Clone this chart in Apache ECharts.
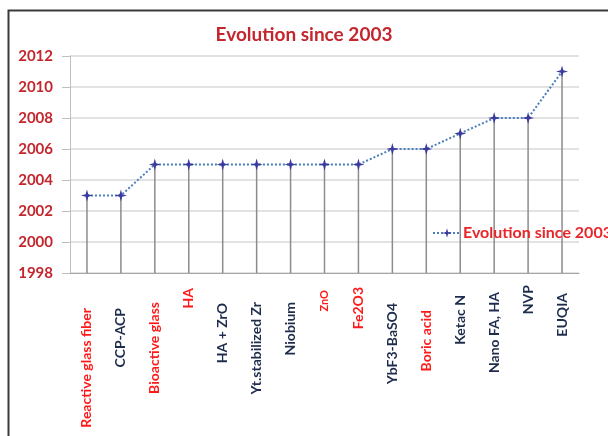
<!DOCTYPE html>
<html>
<head>
<meta charset="utf-8">
<script src="https://cdn.jsdelivr.net/npm/echarts@6/dist/echarts.min.js"></script>
<style>
  body { margin: 0; background: #fff; }
  #myChart { width: 608px; height: 436px; }
</style>
</head>
<body>
<div id="myChart"></div>
<script>
// values
const materials = ["Reactive glass fiber", "CCP-ACP", "Bioactive glass", "HA", "HA + ZrO",
  "Yt.stabilized Zr", "Niobium", "ZnO", "Fe2O3", "YbF3-BaSO4", "Boric acid",
  "Ketac N", "Nano FA, HA", "NVP", "EUQIA"];
const years = [2003, 2003, 2005, 2005, 2005, 2005, 2005, 2005, 2005, 2006, 2006, 2007, 2008, 2008, 2011];
const redLabels = ["Reactive glass fiber", "Bioactive glass", "HA", "ZnO", "Fe2O3", "Boric acid"];
const yTicks = [1998, 2000, 2002, 2004, 2006, 2008, 2010, 2012];
// the labels in the original don't line up, distance of each label from the axis
const labelGap = [35, 35, 29, 15, 30, 29, 29, 17, 14, 30, 37, 22, 19, 12, 20];

const seriesName = "Evolution since 2003";
const font = "Lato";
const baseMargin = 10;

let myChart = echarts.init(document.getElementById("myChart"));

const xData = materials.map((m, i) => ({
  value: m,
  textStyle: {
    color: redLabels.includes(m) ? "#ff1a1a" : "#1f2d4d",
    fontSize: m === "ZnO" ? 11 : 14,
    padding: [0, Math.max(0, labelGap[i] - baseMargin), 0, 0],
  },
}));

myChart.setOption({
  animation: false,
  title: {
    text: seriesName,
    left: "center",
    top: 20,
    textStyle: { color: "#c4262e", fontFamily: font, fontWeight: "bold", fontSize: 19 },
  },
  graphic: [{
    type: "rect",
    shape: { x: 8.5, y: 10.5, width: 640, height: 460 },
    style: { fill: null, stroke: "#3a3a3a", lineWidth: 2 },
    silent: true,
  }],
  legend: {
    data: [{
      name: seriesName,
      itemStyle: { color: "#3d3a9e" },
    }],
    left: 427,
    top: 220,
    itemWidth: 28,
    itemHeight: 12,
    itemGap: 4,
    textStyle: { color: "#e8262a", fontFamily: font, fontWeight: "bold", fontSize: 16, padding: [0, 0, 0, -3] },
  },
  grid: { left: 70, right: 29, top: 56, bottom: 163 },
  xAxis: {
    type: "category",
    data: xData,
    boundaryGap: true,
    axisLine: { lineStyle: { color: "#a6a6a6" } },
    axisTick: { length: 5, lineStyle: { color: "#a6a6a6" } },
    axisLabel: {
      interval: 0,
      rotate: 90,
      margin: baseMargin,
      fontFamily: font,
      fontWeight: "bold",
    },
  },
  yAxis: {
    type: "value",
    min: yTicks[0],
    max: yTicks[yTicks.length - 1],
    interval: 2,
    axisLine: { show: true, lineStyle: { color: "#bfbfbf" } },
    axisTick: { show: true, length: 8, lineStyle: { color: "#bfbfbf" } },
    splitLine: { lineStyle: { color: "#d9d9d9", width: 1.5 } },
    axisLabel: {
      formatter: (v) => String(v),
      color: "#c4262e",
      fontFamily: font,
      fontWeight: "bold",
      fontSize: 15,
      margin: 17,
    },
  },
  series: [
    {
      // drop lines from each point to the axis
      name: "drop",
      type: "bar",
      data: years,
      barWidth: 1.5,
      silent: true,
      itemStyle: { color: "#8c8c8c" },
      z: 1,
    },
    {
      name: seriesName,
      type: "line",
      data: years,
      symbol: "path://M0,-10 L2.2,-2.2 L10,0 L2.2,2.2 L0,10 L-2.2,2.2 L-10,0 L-2.2,-2.2 Z",
      symbolSize: 12,
      itemStyle: { color: "#3d3a9e" },
      lineStyle: { color: "#4a7ebb", width: 2, type: [2, 2] },
      z: 3,
    },
  ],
});
</script>
</body>
</html>
